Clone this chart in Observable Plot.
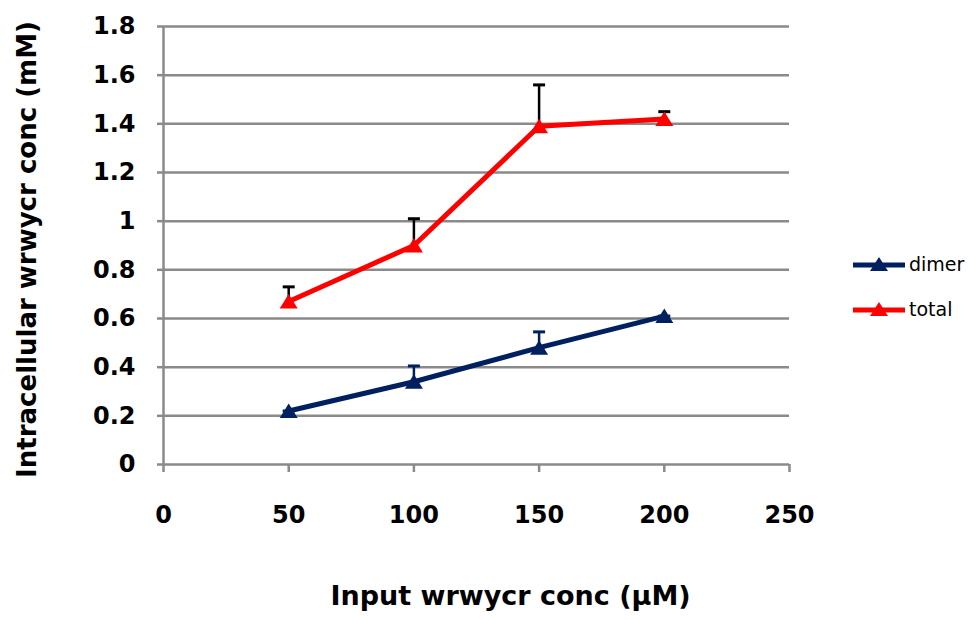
<!DOCTYPE html>
<html>
<head>
<meta charset="utf-8">
<script src="https://cdn.jsdelivr.net/npm/d3@7"></script>
<script src="https://cdn.jsdelivr.net/npm/@observablehq/plot@0.6"></script>
<style>
  html, body { margin: 0; padding: 0; background: #fff; }
  #wrap { position: relative; width: 977px; height: 620px; }
  #legend { position: absolute; left: 850px; top: 241px; font-family: "DejaVu Sans", sans-serif; }
  #legend .row { display: flex; align-items: center; height: 45px; }
  #legend span { font-size: 19px; color: #000; margin-left: 3px; }
</style>
</head>
<body>
<div id="wrap">
  <div id="chart"></div>
  <div id="legend"></div>
</div>
<script>
// Input concentration (µM) and measured intracellular concentration (mM)
const inputConc = [50, 100, 150, 200];
const dimerMean = [0.22, 0.34, 0.48, 0.61];
const dimerErr = [0, 0.065, 0.065, 0];
const totalMean = [0.67, 0.90, 1.39, 1.42];
const totalErr = [0.06, 0.11, 0.17, 0.03];

const seriesNames = ["dimer", "total"];
const seriesColors = ["#002060", "#ff0000"];
const errorColors = ["#002060", "#000000"];

const xTicks = [0, 50, 100, 150, 200, 250];
const yTicks = [0, 0.2, 0.4, 0.6, 0.8, 1, 1.2, 1.4, 1.6, 1.8];
const yTickLabels = ["0", "0.2", "0.4", "0.6", "0.8", "1", "1.2", "1.4", "1.6", "1.8"];

const xTitle = "Input wrwycr conc (µM)";
const yTitle = "Intracellular wrwycr conc (mM)";

const rows = [];
[dimerMean, totalMean].forEach((vals, s) => {
  const errs = s === 0 ? dimerErr : totalErr;
  vals.forEach((v, i) => rows.push({series: seriesNames[s], x: inputConc[i], y: v, err: errs[i]}));
});

// Excel-style markers: a squat triangle and a flat error-bar cap
const triangle = {draw(ctx) { ctx.moveTo(0, -7.5); ctx.lineTo(9, 7); ctx.lineTo(-9, 7); ctx.closePath(); }};
const cap = {draw(ctx) { ctx.moveTo(-6, 0); ctx.lineTo(6, 0); }};

const gray = "#8a8a8a";
const colorOf = name => seriesColors[seriesNames.indexOf(name)];
const errColorOf = name => errorColors[seriesNames.indexOf(name)];

const chart = Plot.plot({
  width: 977,
  height: 620,
  marginLeft: 163,
  marginRight: 188,
  marginTop: 26,
  marginBottom: 156,
  style: {fontFamily: "DejaVu Sans, sans-serif", fontWeight: "bold", color: "#000", background: "#fff"},
  x: {domain: [0, 250]},
  y: {domain: [0, 1.8]},
  marks: [
    Plot.ruleY(yTicks, {stroke: gray, strokeWidth: 2.5}),
    Plot.ruleX([0], {y1: 0, y2: 1.8, stroke: gray, strokeWidth: 2.5}),
    Plot.axisY({ticks: yTicks, tickFormat: (d, i) => yTickLabels[i], tickSize: 6, tickPadding: 22,
      stroke: gray, strokeWidth: 2.5, fill: "#000", fontSize: 24, label: null}),
    Plot.axisX({ticks: xTicks, tickSize: 8, tickPadding: 33,
      stroke: gray, strokeWidth: 2.5, fill: "#000", fontSize: 24, label: null}),
    // error bars (upper only)
    Plot.ruleX(rows, {x: "x", y1: "y", y2: d => d.y + d.err, stroke: d => errColorOf(d.series), strokeWidth: 2.5}),
    Plot.dot(rows, {x: "x", y: d => d.y + d.err, symbol: cap, stroke: d => errColorOf(d.series), strokeWidth: 3, fill: "none", r: 4}),
    Plot.line(rows, {x: "x", y: "y", z: "series", stroke: d => colorOf(d.series), strokeWidth: 5}),
    Plot.dot(rows, {x: "x", y: "y", symbol: triangle, fill: d => colorOf(d.series), stroke: "none", r: 6}),
    Plot.text([yTitle], {text: d => d, frameAnchor: "left", textAnchor: "middle", dx: -136, dy: 4, rotate: -90,
      fontSize: 26, fontWeight: "bold", fill: "#000"}),
    Plot.text([xTitle], {text: d => d, frameAnchor: "bottom", textAnchor: "middle", dx: 34, dy: 140,
      fontSize: 27, fontWeight: "bold", fill: "#000"})
  ]
});
document.getElementById("chart").appendChild(chart);

// Legend
const legend = document.getElementById("legend");
seriesNames.forEach((name, i) => {
  const row = document.createElement("div");
  row.className = "row";
  const svg = d3.create("svg").attr("width", 56).attr("height", 20);
  svg.append("line").attr("x1", 3).attr("x2", 55).attr("y1", 11).attr("y2", 11)
    .attr("stroke", seriesColors[i]).attr("stroke-width", 5);
  svg.append("path").attr("d", "M29,3 L38,17 L20,17 Z").attr("fill", seriesColors[i]);
  row.appendChild(svg.node());
  const label = document.createElement("span");
  label.textContent = name;
  row.appendChild(label);
  legend.appendChild(row);
});
</script>
</body>
</html>
